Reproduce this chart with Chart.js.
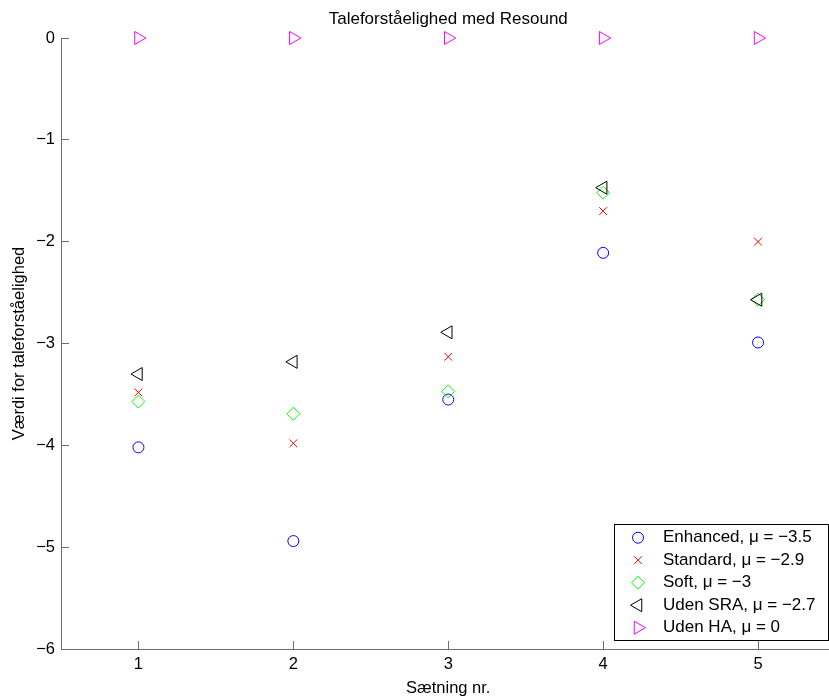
<!DOCTYPE html>
<html>
<head>
<meta charset="utf-8">
<script src="https://cdn.jsdelivr.net/npm/chart.js@4.4.1/dist/chart.umd.min.js"></script>
<style>
  html, body { margin: 0; padding: 0; overflow: hidden; background: #fff; }
  canvas { display: block; }
</style>
</head>
<body>
<canvas id="plot" width="844" height="699"></canvas>
<script>
// Sætning nr. og målte værdier pr. indstilling
const saetninger = [1, 2, 3, 4, 5];
const enhanced = [-4.02, -4.94, -3.55, -2.11, -2.99];
const standard = [-3.48, -3.98, -3.13, -1.70, -2.00];
const soft = [-3.57, -3.69, -3.47, -1.52, -2.57];
const udenSRA = [-3.30, -3.18, -2.89, -1.47, -2.57];
const udenHA = [0, 0, 0, 0, 0];

const xTicks = [1, 2, 3, 4, 5];
const yTicks = [-6, -5, -4, -3, -2, -1, 0];

const FONT = '"Liberation Sans", Arial, Helvetica, sans-serif';
const AXIS_GRAY = '#6e6e6e';

Chart.defaults.font.family = FONT;
Chart.defaults.color = '#000';

function middel(v) {
  return v.reduce((a, b) => a + b, 0) / v.length;
}

// MATLAB-agtig afrunding til én decimal, med rigtigt minustegn
function fmt(x) {
  const r = Math.round(x * 10) / 10;
  return String(r === 0 ? 0 : r).replace('-', '\u2212');
}

function serie(navn, values, color, style, radius, rotation, idx) {
  return {
    label: navn + ', \u03bc = ' + fmt(middel(values)),
    data: saetninger.map((x, i) => ({ x: x, y: values[i] })),
    showLine: false,
    pointStyle: style,
    pointRadius: radius,
    pointHoverRadius: radius,
    pointRotation: rotation,
    pointBorderWidth: 1,
    borderColor: color,
    backgroundColor: 'rgba(0,0,0,0)',
    clip: false,
    order: -idx
  };
}

const datasets = [
  serie('Enhanced', enhanced, '#0000ff', 'circle', 5.5, 0, 0),
  serie('Standard', standard, '#ff0000', 'crossRot', 5.5, 0, 1),
  serie('Soft', soft, '#00ff00', 'rectRot', 6.5, 0, 2),
  serie('Uden SRA', udenSRA, '#000000', 'triangle', 7.5, -90, 3),
  serie('Uden HA', udenHA, '#ff00ff', 'triangle', 7.5, 90, 4)
];

// legende inde i plotområdet, nederst til højre
const legendeBoks = {
  id: 'legendeBoks',
  afterDatasetsDraw(chart) {
    const ctx = chart.ctx;
    const x0 = 614, y0 = 524, w = 214, h = 116;
    ctx.save();
    ctx.fillStyle = '#fff';
    ctx.fillRect(x0, y0, w, h);
    ctx.strokeStyle = '#000';
    ctx.lineWidth = 1;
    ctx.strokeRect(x0 + 0.5, y0 + 0.5, w, h);
    chart.data.datasets.forEach((ds, i) => {
      const cy = 537.7 + i * 22.5;
      ctx.strokeStyle = ds.borderColor;
      ctx.fillStyle = 'rgba(0,0,0,0)';
      ctx.lineWidth = 1;
      Chart.helpers.drawPoint(ctx, {
        pointStyle: ds.pointStyle,
        radius: ds.pointRadius,
        rotation: ds.pointRotation,
        borderWidth: 1
      }, 638, cy);
      ctx.fillStyle = '#000';
      ctx.font = '17px ' + FONT;
      ctx.textAlign = 'left';
      ctx.textBaseline = 'middle';
      ctx.fillText(ds.label, 663, cy);
    });
    ctx.restore();
  }
};

new Chart(document.getElementById('plot'), {
  type: 'scatter',
  data: { datasets: datasets },
  options: {
    responsive: false,
    devicePixelRatio: 1,
    animation: false,
    layout: { padding: 0 },
    plugins: {
      legend: { display: false },
      tooltip: { enabled: false }
    },
    scales: {
      x: {
        type: 'linear',
        position: 'bottom',
        min: 0.5,
        max: 5.5,
        afterBuildTicks: s => { s.ticks = xTicks.map(v => ({ value: v })); },
        afterFit: s => { s.height = 50; },
        grid: { drawOnChartArea: false, tickLength: -8, color: AXIS_GRAY },
        border: { color: AXIS_GRAY, width: 1 },
        ticks: { padding: 14, font: { size: 16.5 }, color: '#000', callback: v => String(v) },
        title: { display: true, text: 'Sætning nr.', font: { size: 16.5 }, color: '#000', padding: { top: 0, bottom: 1 } }
      },
      titel: {
        type: 'linear',
        position: 'top',
        min: 0,
        max: 1,
        afterFit: s => { s.height = 38; },
        grid: { display: false },
        border: { display: false },
        ticks: { display: false },
        title: { display: true, text: 'Taleforståelighed med Resound', font: { size: 17 }, color: '#000', padding: { top: 9.5, bottom: 0 } }
      },
      y: {
        type: 'linear',
        position: 'left',
        min: -6,
        max: 0,
        afterBuildTicks: s => { s.ticks = yTicks.map(v => ({ value: v })); },
        afterFit: s => { s.width = 61; },
        grid: { drawOnChartArea: false, tickLength: -8, color: AXIS_GRAY },
        border: { color: AXIS_GRAY, width: 1 },
        ticks: { padding: 14, font: { size: 16.5 }, color: '#000', callback: v => String(v).replace('-', '\u2212') },
        title: { display: true, text: 'Værdi for taleforståelighed', font: { size: 16.5 }, color: '#000', padding: { top: 9.3, bottom: 0 } }
      }
    }
  },
  plugins: [legendeBoks]
});
</script>
</body>
</html>
